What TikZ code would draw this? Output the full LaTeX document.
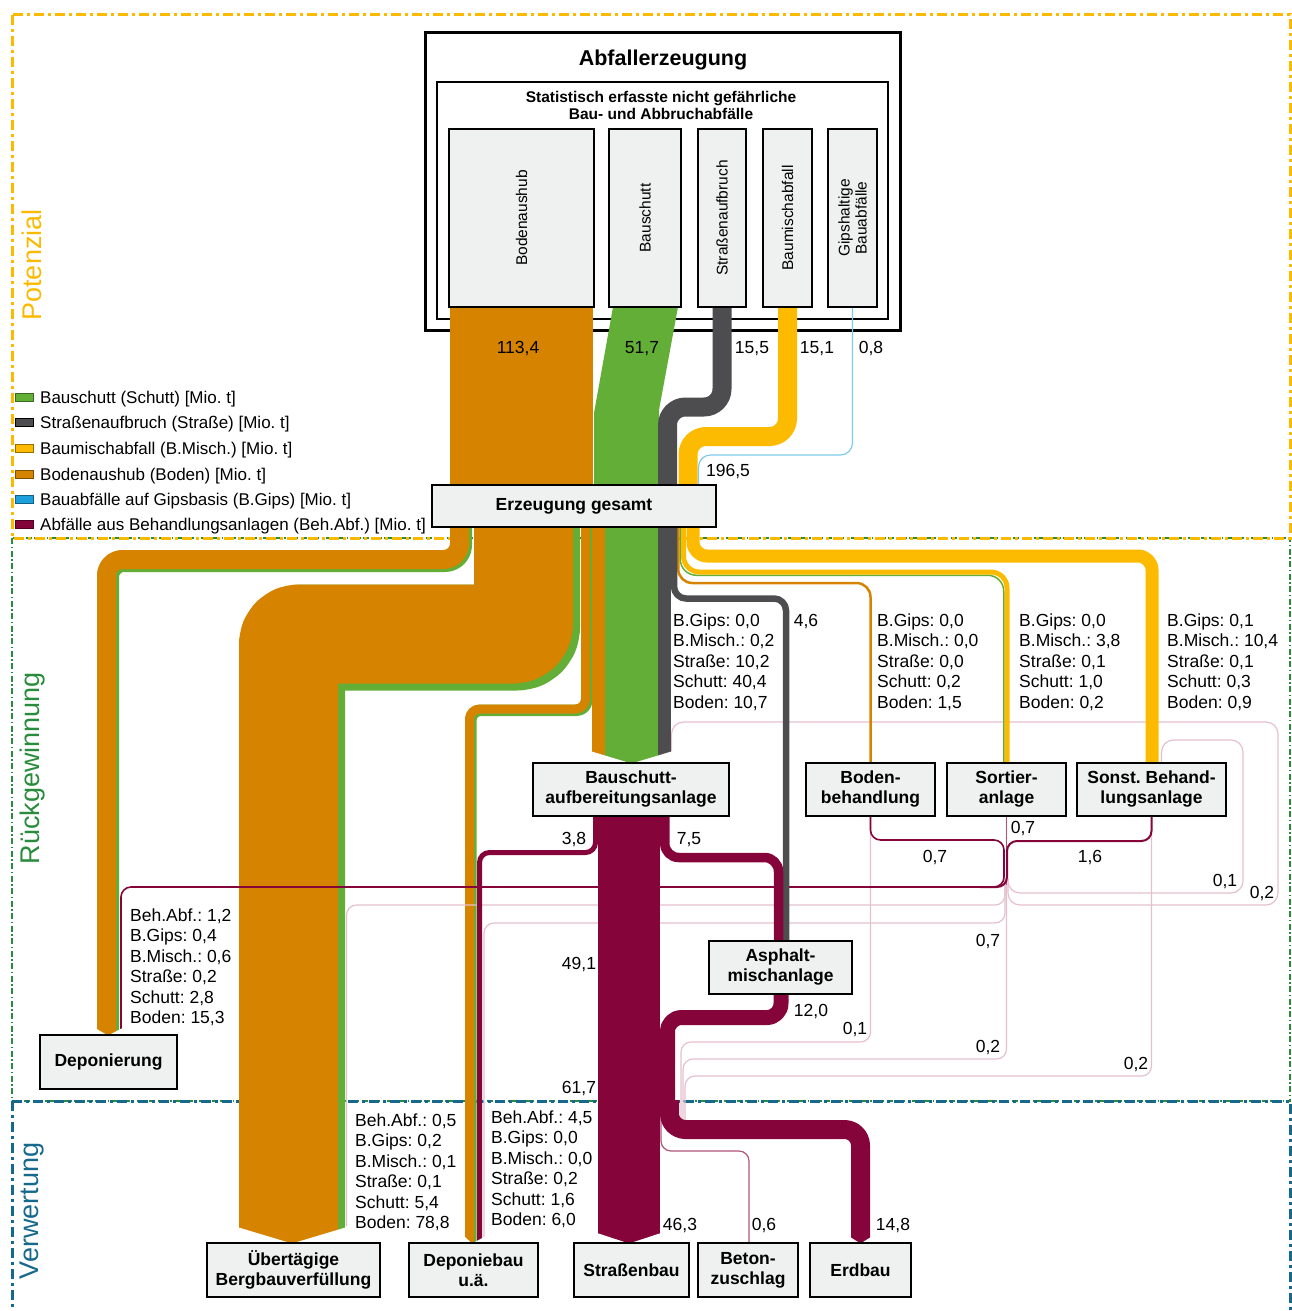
\documentclass[tikz,border=0pt]{standalone}
\usepackage{fontspec}
\setmainfont{Liberation Sans}
\frenchspacing
\definecolor{cBoden}{RGB}{214,132,0}
\definecolor{cSchutt}{RGB}{98,174,55}
\definecolor{cStrasse}{RGB}{77,77,79}
\definecolor{cMisch}{RGB}{252,187,0}
\definecolor{cGips}{RGB}{125,203,235}
\definecolor{cGipsKey}{RGB}{30,160,220}
\definecolor{cBeh}{RGB}{133,5,58}
\definecolor{cBehMid}{RGB}{175,85,120}
\definecolor{cBehLight}{RGB}{228,192,206}
\definecolor{cBox}{RGB}{239,240,240}
\definecolor{cPot}{RGB}{251,186,0}
\definecolor{cRueck}{RGB}{40,140,60}
\definecolor{cVerw}{RGB}{22,105,140}
\newcommand\labfont{\fontsize{17.5}{20.5}\selectfont}
\newcommand\boxfont{\fontsize{17.5}{20}\selectfont\bfseries}
\newcommand\subfont{\fontsize{15.5}{17}\selectfont}
\newcommand\keyfont{\fontsize{17}{20}\selectfont}
\newcommand\zonefont{\fontsize{27}{27}\selectfont}
\begin{document}
\begin{tikzpicture}[x=1pt,y=-1pt,
  box/.style={draw=black,line width=2.2pt,fill=cBox,inner sep=0pt,align=center,font=\boxfont},
  subbox/.style={draw=black,line width=2pt,fill=cBox,inner sep=0pt},
  band/.style={line cap=butt,line join=round},
  val/.style={font=\labfont,inner sep=0pt,anchor=base},
  blk/.style={font=\labfont,inner sep=0pt,align=left,anchor=north west},
  legendtext/.style={font=\keyfont,inner sep=0pt,anchor=base west},
  swatch/.style={line width=1pt},
  zone/.style={line width=3pt,dash pattern=on 10pt off 4pt on 3pt off 4pt},
  recline/.style={line width=1.2pt,rounded corners=10pt},
  zonelabel/.style={rotate=90,font=\zonefont,inner sep=0pt},
]
\useasboundingbox (0,0) rectangle (1292,1311);

% ---------- zones ----------
\draw[cRueck,line width=2pt,dash pattern=on 6pt off 2.5pt on 1.5pt off 2.5pt] (12,538) rectangle (1290,1101);
\draw[zone,cVerw] (12,1101) rectangle (1290,1340);
\draw[zone,cPot] (12,15) rectangle (1290,538);
\node[zonelabel,text=cPot] (potenzial) at (32,265) {Potenzial};
\node[zonelabel,text=cRueck] (rueck) at (33,768) {Rückgewinnung};
\node[zonelabel,text=cVerw] (verw) at (32,1211) {Verwertung};

% ---------- generation frame ----------
\node[draw=black,line width=3pt,inner sep=0pt,minimum width=475pt,minimum height=297pt] (abfall) at (662.5,181.5) {};
\node[draw=black,line width=2pt,inner sep=0pt,minimum width=451pt,minimum height=237pt] (statbox) at (662.5,200.5) {};
\node[font=\fontsize{21.5}{24}\selectfont\bfseries,inner sep=0pt] (abfalltitle) at (663,60) {Abfallerzeugung};
\node[font=\fontsize{15.5}{17}\selectfont\bfseries,align=center,inner sep=0pt] (stattitle) at (661,105) {Statistisch erfasste nicht gefährliche\\Bau- und Abbruchabfälle};

% ---------- loops back into treatment (behind the bands) ----------
\draw[recline,cBehLight,rounded corners=12pt] (1008,878) -- (1008,893) -- (1243,893) -- (1243,740) -- (1161.5,740) -- (1161.5,763);
\draw[recline,cBehLight,rounded corners=12pt] (1008,878) -- (1008,905) -- (1278,905) -- (1278,722) -- (671.5,722) -- (671.5,752);

% ---------- flows out of the waste types ----------
\fill[cBoden] (450,307) rectangle (593,500);
\fill[cSchutt] (613,307) -- (678,307) -- (659,410) -- (659,500) -- (594,500) -- (594,413) -- cycle;
\draw[band,cStrasse,line width=19pt,rounded corners=18pt] (722,300) -- (722,407) -- (667.5,407) -- (667.5,500);
\draw[band,cMisch,line width=19pt,rounded corners=18pt] (787.5,300) -- (787.5,436.5) -- (688,436.5) -- (688,500);
\draw[cGips,line width=1.2pt,rounded corners=12pt] (852.5,307) -- (852.5,455) -- (698.5,455) -- (698.5,500);

% ---------- flows out of the total ----------
% to Deponierung
\draw[band,cSchutt,line width=22pt,rounded corners=16pt] (461,515) -- (461,561) -- (108,561) -- (108,1036);
\draw[band,cBoden,line width=19pt,rounded corners=16pt] (459.5,515) -- (459.5,559.5) -- (106.5,559.5) -- (106.5,1036);
% to Übertägige Bergbauverfüllung
\draw[band,cSchutt,line width=106pt,rounded corners=10pt] (527,515) -- (527,637.5) -- (292,637.5) -- (292,1243);
\draw[band,cBoden,line width=99pt,rounded corners=10pt] (523.5,515) -- (523.5,634) -- (288.5,634) -- (288.5,1243);
% to Deponiebau
\draw[band,cSchutt,line width=11.5pt,rounded corners=10pt] (586.75,515) -- (586.75,710.25) -- (470.75,710.25) -- (470.75,1243);
\draw[band,cBoden,line width=9pt,rounded corners=10pt] (585.5,515) -- (585.5,709) -- (469.5,709) -- (469.5,1243);
% to Bauschuttaufbereitung
\fill[cBoden] (592,515) rectangle (605,763);
\fill[cSchutt] (605,515) rectangle (657.5,763);
\fill[cStrasse] (657.5,515) rectangle (670.5,763);
% to Bodenbehandlung, Sortieranlage, sonstige Behandlung
\draw[band,cBoden,line width=2.5pt,rounded corners=14pt] (678.25,515) -- (678.25,583) -- (870.5,583) -- (870.5,764);
\draw[band,cSchutt,line width=1.5pt,rounded corners=16pt] (680.25,515) -- (680.25,575.25) -- (1003.75,575.25) -- (1003.75,764);
\draw[band,cMisch,line width=5pt,rounded corners=16pt] (683.5,515) -- (683.5,572) -- (1007,572) -- (1007,764);
\draw[band,cMisch,line width=13pt,rounded corners=14pt] (693,515) -- (693,556) -- (1152,556) -- (1152,764);

% ---------- residues of the treatment plants ----------
\draw[recline,cBehLight] (870.5,816) -- (870.5,1042) -- (681,1042) -- (681,1125);
\draw[recline,cBehLight] (1006.5,816) -- (1006.5,1059) -- (683,1059) -- (683,1125);
\draw[recline,cBehLight] (1151.5,816) -- (1151.5,1076) -- (685,1076) -- (685,1125);
\draw[recline,cBehLight] (1005,878) -- (1005,905) -- (346.5,905) -- (346.5,1226);
\draw[recline,cBehLight] (1005,878) -- (1005,923) -- (484,923) -- (484,1237);
\draw[cBehMid,line width=1.4pt] (1006.5,816) -- (1006.5,885);
\draw[recline,cBeh,line width=1.6pt] (870.5,816) -- (870.5,840) -- (1004,840) -- (1004,887) -- (121,887) -- (121,1031);
\draw[recline,cBeh,line width=2pt] (1151.5,816) -- (1151.5,841) -- (1007,841) -- (1007,887) -- (980,887);
\draw[recline,cBehMid] (661,1110) -- (661,1151) -- (749,1151) -- (749,1244);

% ---------- asphalt input and recycled material ----------
\draw[band,cStrasse,line width=6.5pt,rounded corners=12pt] (674,515) -- (674,598.5) -- (786,598.5) -- (786,942);
\draw[band,cBeh,line width=62pt] (629,810) -- (629,1243);
\draw[band,cBeh,line width=5pt,rounded corners=10pt] (595.5,810) -- (595.5,852.5) -- (479.5,852.5) -- (479.5,1243);
\draw[band,cBeh,line width=9.5pt,rounded corners=14pt] (664.75,810) -- (664.75,857.5) -- (778.5,857.5) -- (778.5,942);
\draw[band,cBeh,line width=15pt,rounded corners=14pt] (781,990) -- (781,1017.5) -- (667.5,1017.5) -- (667.5,1115);
\draw[band,cBeh,line width=19pt,rounded corners=16pt] (669.5,1100) -- (669.5,1129.5) -- (860.5,1129.5) -- (860.5,1243);

% ---------- pointed band ends ----------
\fill[white] (590,751) -- (631.5,763.5) -- (590,763.5) -- cycle;
\fill[white] (673,751) -- (631.5,763.5) -- (673,763.5) -- cycle;
\fill[white] (95,1028) -- (108,1035.5) -- (95,1035.5) -- cycle;
\fill[white] (122.5,1028) -- (108,1035.5) -- (122.5,1035.5) -- cycle;
\fill[white] (237,1227) -- (292,1243.5) -- (237,1243.5) -- cycle;
\fill[white] (347,1227) -- (292,1243.5) -- (347,1243.5) -- cycle;
\fill[white] (464,1236) -- (472,1243.5) -- (464,1243.5) -- cycle;
\fill[white] (486,1236) -- (472,1243.5) -- (486,1243.5) -- cycle;
\fill[white] (597,1233) -- (629,1243.5) -- (597,1243.5) -- cycle;
\fill[white] (661,1233) -- (629,1243.5) -- (661,1243.5) -- cycle;
\fill[white] (850,1237) -- (860.5,1243.5) -- (850,1243.5) -- cycle;
\fill[white] (871,1237) -- (860.5,1243.5) -- (871,1243.5) -- cycle;

% ---------- waste types ----------
\node[subbox,minimum width=145pt,minimum height=178pt] (boxboden) at (521.5,218) {};
\node[subbox,minimum width=72pt,minimum height=178pt] (boxschutt) at (645,218) {};
\node[subbox,minimum width=48pt,minimum height=178pt] (boxstrasse) at (722,218) {};
\node[subbox,minimum width=49pt,minimum height=178pt] (boxmisch) at (787.5,218) {};
\node[subbox,minimum width=49pt,minimum height=178pt] (boxgips) at (852.5,218) {};
\node[rotate=90,font=\subfont,inner sep=0pt] at (boxboden) {Bodenaushub};
\node[rotate=90,font=\subfont,inner sep=0pt] at (boxschutt) {Bauschutt};
\node[rotate=90,font=\subfont,inner sep=0pt] at (boxstrasse) {Straßenaufbruch};
\node[rotate=90,font=\subfont,inner sep=0pt] at (boxmisch) {Baumischabfall};
\node[rotate=90,font=\subfont,inner sep=0pt,align=center] at (boxgips) {Gipshaltige\\Bauabfälle};

% ---------- plants and destinations ----------
\node[box,minimum width=284pt,minimum height=42pt] (gesamt) at (574,506) {Erzeugung gesamt};
\node[box,minimum width=196pt,minimum height=53pt] (bauauf) at (631,789.5) {Bauschutt-\\aufbereitungsanlage};
\node[box,minimum width=129pt,minimum height=53pt] (bodenbeh) at (870.5,789.5) {Boden-\\behandlung};
\node[box,minimum width=119pt,minimum height=53pt] (sortier) at (1006.5,789.5) {Sortier-\\anlage};
\node[box,minimum width=149pt,minimum height=53pt] (sonst) at (1151.5,789.5) {Sonst. Behand-\\lungsanlage};
\node[box,minimum width=143pt,minimum height=53pt] (asphalt) at (780.5,967.5) {Asphalt-\\mischanlage};
\node[box,minimum width=137pt,minimum height=54pt] (deponierung) at (108.5,1062) {Deponierung};
\node[box,minimum width=173pt,minimum height=54pt] (ueber) at (293.5,1270) {Übertägige\\Bergbauverfüllung};
\node[box,minimum width=129pt,minimum height=54pt] (depbau) at (473.5,1270) {Deponiebau\\u.ä.};
\node[box,minimum width=115pt,minimum height=54pt] (strbau) at (631.5,1270) {Straßenbau};
\node[box,minimum width=100pt,minimum height=54pt] (beton) at (748,1270) {Beton-\\zuschlag};
\node[box,minimum width=101pt,minimum height=54pt] (erdbau) at (860.5,1270) {Erdbau};

% ---------- quantities ----------
\node[val] at (518,353) {113,4};
\node[val] at (642,353) {51,7};
\node[val] at (752,353) {15,5};
\node[val] at (817,353) {15,1};
\node[val] at (871,353) {0,8};
\node[val] at (728,476) {196,5};
\node[val] at (806,626) {4,6};
\node[val] at (574,844) {3,8};
\node[val] at (689,844) {7,5};
\node[val] at (579,969) {49,1};
\node[val] at (579,1093) {61,7};
\node[val] at (811,1016) {12,0};
\node[val] at (855,1034) {0,1};
\node[val] at (935,862) {0,7};
\node[val] at (1023,833) {0,7};
\node[val] at (1090,862) {1,6};
\node[val] at (1225,886) {0,1};
\node[val] at (1262,898) {0,2};
\node[val] at (988,946) {0,7};
\node[val] at (988,1052) {0,2};
\node[val] at (1136,1069) {0,2};
\node[val] at (680,1230) {46,3};
\node[val] at (764,1230) {0,6};
\node[val] at (893,1230) {14,8};

\node[blk] (infobau) at (673,613.5) {B.Gips: 0,0\\B.Misch.: 0,2\\Straße: 10,2\\Schutt: 40,4\\Boden: 10,7};
\node[blk] (infoboden) at (877,613.5) {B.Gips: 0,0\\B.Misch.: 0,0\\Straße: 0,0\\Schutt: 0,2\\Boden: 1,5};
\node[blk] (infosort) at (1019,613.5) {B.Gips: 0,0\\B.Misch.: 3,8\\Straße: 0,1\\Schutt: 1,0\\Boden: 0,2};
\node[blk] (infosonst) at (1167,613.5) {B.Gips: 0,1\\B.Misch.: 10,4\\Straße: 0,1\\Schutt: 0,3\\Boden: 0,9};
\node[blk] (infodep) at (130,908.5) {Beh.Abf.: 1,2\\B.Gips: 0,4\\B.Misch.: 0,6\\Straße: 0,2\\Schutt: 2,8\\Boden: 15,3};
\node[blk] (infoueber) at (355,1113.5) {Beh.Abf.: 0,5\\B.Gips: 0,2\\B.Misch.: 0,1\\Straße: 0,1\\Schutt: 5,4\\Boden: 78,8};
\node[blk] (infodepbau) at (491,1110.5) {Beh.Abf.: 4,5\\B.Gips: 0,0\\B.Misch.: 0,0\\Straße: 0,2\\Schutt: 1,6\\Boden: 6,0};

% ---------- legend ----------
\draw[swatch,fill=cSchutt,draw=cSchutt!60!black] (15,393) rectangle (33,401);
\draw[swatch,fill=cStrasse,draw=black] (15,418) rectangle (33,426);
\draw[swatch,fill=cMisch,draw=cMisch!60!black] (15,444) rectangle (33,452);
\draw[swatch,fill=cBoden,draw=cBoden!60!black] (15,470) rectangle (33,478);
\draw[swatch,fill=cGipsKey,draw=cGipsKey!60!black] (15,495) rectangle (33,503);
\draw[swatch,fill=cBeh,draw=cBeh!60!black] (15,520) rectangle (33,528);
\node[legendtext] (keyschutt) at (40,403) {Bauschutt (Schutt) [Mio. t]};
\node[legendtext] (keystrasse) at (40,428) {Straßenaufbruch (Straße) [Mio. t]};
\node[legendtext] (keymisch) at (40,454) {Baumischabfall (B.Misch.) [Mio. t]};
\node[legendtext] (keyboden) at (40,480) {Bodenaushub (Boden) [Mio. t]};
\node[legendtext] (keygips) at (40,505) {Bauabfälle auf Gipsbasis (B.Gips) [Mio. t]};
\node[legendtext] (keybeh) at (40,530) {Abfälle aus Behandlungsanlagen (Beh.Abf.) [Mio. t]};
\end{tikzpicture}
\end{document}
